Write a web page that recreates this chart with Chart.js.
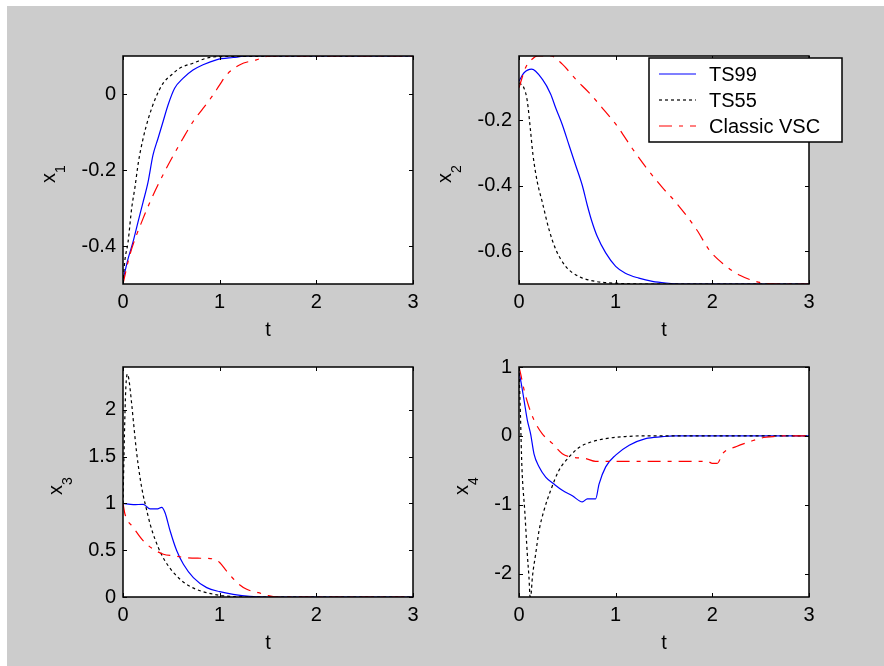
<!DOCTYPE html>
<html><head><meta charset="utf-8">
<script src="https://cdn.jsdelivr.net/npm/chart.js@4/dist/chart.umd.min.js"></script>
<style>
html,body{margin:0;padding:0;background:#fff;width:884px;height:666px;overflow:hidden;position:relative}
#fig{position:absolute;left:7px;top:6px;width:877px;height:660px;background:#cccccc}
canvas{position:absolute}
</style></head><body>
<div id="fig"></div>
<canvas id="p1"></canvas><canvas id="p2"></canvas><canvas id="p3"></canvas><canvas id="p4"></canvas>
<script>
// ---------- data ----------
const seriesNames = ['TS99', 'TS55', 'Classic VSC'];
const tTicks = [0, 1, 2, 3];
const x1Ticks = [-0.4, -0.2, 0];
const x2Ticks = [-0.6, -0.4, -0.2];
const x3Ticks = [0, 0.5, 1, 1.5, 2];
const x4Ticks = [-2, -1, 0, 1];

// x1
const x1_ts99_t = [0, 0.052, 0.103, 0.155, 0.207, 0.259, 0.31, 0.362, 0.414, 0.466, 0.534, 0.62, 0.724, 0.828, 0.966, 1.14, 1.31, 3];
const x1_ts99   = [-0.49, -0.434, -0.39, -0.337, -0.285, -0.232, -0.161, -0.117, -0.073, -0.029, 0.015, 0.041, 0.063, 0.077, 0.09, 0.096, 0.1, 0.1];
const x1_ts55_t = [0, 0.017, 0.052, 0.09, 0.124, 0.159, 0.21, 0.262, 0.33, 0.414, 0.5, 0.586, 0.724, 0.862, 1.0, 3];
const x1_ts55   = [-0.5, -0.443, -0.39, -0.30, -0.245, -0.18, -0.115, -0.065, -0.015, 0.028, 0.05, 0.068, 0.081, 0.094, 0.0985, 0.1];
const x1_vsc_t  = [0, 0.069, 0.207, 0.31, 0.448, 0.62, 0.724, 0.828, 0.931, 1.0, 1.07, 1.21, 1.38, 1.52, 3];
const x1_vsc    = [-0.5, -0.425, -0.328, -0.267, -0.196, -0.117, -0.073, -0.038, -0.003, 0.024, 0.05, 0.077, 0.09, 0.1, 0.1];

// x2
const x2_ts99_t = [0, 0.05, 0.131, 0.241, 0.328, 0.38, 0.448, 0.517, 0.586, 0.655, 0.707, 0.75, 0.81, 0.897, 1.0, 1.1, 1.24, 1.38, 1.52, 1.7, 3];
const x2_ts99   = [-0.08, -0.055, -0.043, -0.074, -0.12, -0.162, -0.213, -0.275, -0.337, -0.399, -0.46, -0.505, -0.555, -0.605, -0.646, -0.667, -0.682, -0.692, -0.697, -0.7, -0.7];
const x2_ts55_t = [0, 0.05, 0.086, 0.12, 0.145, 0.19, 0.241, 0.31, 0.38, 0.483, 0.62, 0.79, 1.03, 1.3, 3];
const x2_ts55   = [-0.085, -0.1, -0.141, -0.234, -0.306, -0.389, -0.45, -0.533, -0.594, -0.646, -0.677, -0.692, -0.698, -0.7, -0.7];
const x2_vsc_t  = [0, 0.069, 0.138, 0.19, 0.26, 0.33, 0.448, 0.586, 0.724, 0.862, 1.03, 1.17, 1.31, 1.48, 1.63, 1.84, 1.97, 2.11, 2.29, 2.49, 2.7, 3];
const x2_vsc    = [-0.1, -0.038, -0.012, -0.003, -0.003, -0.003, -0.028, -0.074, -0.115, -0.162, -0.223, -0.285, -0.342, -0.404, -0.453, -0.535, -0.597, -0.638, -0.674, -0.695, -0.7, -0.7];

// x3
const x3_ts99_t = [0, 0.107, 0.21, 0.28, 0.35, 0.40, 0.435, 0.487, 0.556, 0.625, 0.728, 0.866, 1.0, 1.14, 1.31, 1.5, 3];
const x3_ts99   = [1.0, 0.986, 0.99, 0.94, 0.94, 0.957, 0.9, 0.707, 0.493, 0.35, 0.207, 0.1, 0.057, 0.029, 0.007, 0, 0];
const x3_ts55_t = [0, 0.01, 0.02, 0.03, 0.045, 0.06, 0.09, 0.11, 0.14, 0.18, 0.21, 0.24, 0.28, 0.33, 0.40, 0.47, 0.55, 0.65, 0.75, 0.85, 1.0, 1.15, 1.3, 3];
const x3_ts55   = [1.0, 1.5, 1.95, 2.25, 2.38, 2.33, 2.06, 1.85, 1.55, 1.25, 1.08, 0.95, 0.78, 0.62, 0.45, 0.33, 0.23, 0.14, 0.085, 0.05, 0.018, 0.004, 0, 0];
const x3_vsc_t  = [0, 0.02, 0.107, 0.21, 0.314, 0.418, 0.52, 0.66, 0.8, 0.95, 1.0, 1.07, 1.18, 1.28, 1.4, 1.49, 1.59, 3];
const x3_vsc    = [1.0, 0.886, 0.743, 0.6, 0.51, 0.457, 0.44, 0.42, 0.414, 0.404, 0.368, 0.279, 0.154, 0.082, 0.046, 0.018, 0, 0];

// x4
const x4_ts99_t = [0, 0.017, 0.052, 0.086, 0.12, 0.155, 0.207, 0.276, 0.362, 0.448, 0.552, 0.655, 0.707, 0.793, 0.828, 0.897, 1.0, 1.14, 1.31, 1.48, 1.6, 3];
const x4_ts99   = [0.92, 0.81, 0.52, 0.23, 0.03, -0.26, -0.45, -0.6, -0.70, -0.79, -0.87, -0.96, -0.915, -0.915, -0.70, -0.45, -0.28, -0.136, -0.04, -0.012, 0, 0];
const x4_ts55_t = [0, 0.015, 0.03, 0.06, 0.086, 0.103, 0.115, 0.125, 0.138, 0.172, 0.207, 0.259, 0.328, 0.414, 0.517, 0.62, 0.724, 0.897, 1.1, 1.3, 3];
const x4_ts55   = [1.0, 0.3, -0.45, -1.1, -1.72, -2.05, -2.34, -2.3, -2.06, -1.72, -1.38, -1.08, -0.79, -0.50, -0.31, -0.17, -0.10, -0.04, -0.01, 0, 0];
const x4_vsc_t  = [0, 0.017, 0.052, 0.103, 0.155, 0.241, 0.345, 0.448, 0.552, 0.69, 0.793, 1.2, 1.6, 1.95, 2.0, 2.05, 2.11, 2.25, 2.39, 2.53, 2.63, 2.7, 3];
const x4_vsc    = [1.0, 0.9, 0.67, 0.42, 0.23, 0.03, -0.11, -0.26, -0.31, -0.33, -0.37, -0.37, -0.37, -0.37, -0.40, -0.40, -0.25, -0.155, -0.083, -0.024, -0.01, 0, 0];

// ---------- styling ----------
const FONT = "'Liberation Sans', Arial, Helvetica, sans-serif";
Chart.defaults.font.family = FONT;
Chart.defaults.color = '#000';
const styles = [
  {borderColor: '#0000ff', borderDash: [], order: 3},
  {borderColor: '#000000', borderDash: [3, 3], order: 2},
  {borderColor: '#ff0000', borderDash: [13, 7, 4, 7], order: 1}
];

function pts(t, v) { return t.map((tt, i) => ({x: tt, y: v[i]})); }

const matlabAxes = {
  id: 'matlabAxes',
  beforeDraw(chart) {
    const {ctx, chartArea: a} = chart;
    ctx.save();
    ctx.fillStyle = '#ffffff';
    ctx.fillRect(a.left, a.top, a.right - a.left, a.bottom - a.top);
    ctx.restore();
  },
  afterDraw(chart, args, opts) {
    const {ctx, chartArea: a, scales: {x, y}} = chart;
    ctx.save();
    ctx.strokeStyle = '#000';
    ctx.lineWidth = 1;
    ctx.setLineDash([]);
    ctx.beginPath();
    x.ticks.forEach(tk => {
      const p = Math.round(x.getPixelForValue(tk.value)) + 0.5;
      ctx.moveTo(p, a.bottom); ctx.lineTo(p, a.bottom - 4);
      ctx.moveTo(p, a.top); ctx.lineTo(p, a.top + 4);
    });
    y.ticks.forEach(tk => {
      const p = Math.round(y.getPixelForValue(tk.value)) + 0.5;
      ctx.moveTo(a.left, p); ctx.lineTo(a.left + 4, p);
      ctx.moveTo(a.right, p); ctx.lineTo(a.right - 4, p);
    });
    ctx.stroke();
    ctx.lineWidth = 1.5;
    ctx.strokeRect(a.left, a.top, a.right - a.left, a.bottom - a.top);

    // y label with subscript
    ctx.font = '20px ' + FONT;
    let maxW = 0;
    y.ticks.forEach(tk => { maxW = Math.max(maxW, ctx.measureText(String(tk.label)).width); });
    const base = a.left - 7 - maxW - 26.5;
    const wx = ctx.measureText(opts.label).width;
    ctx.font = '14px ' + FONT;
    const ws = ctx.measureText(opts.sub).width;
    const cy = (a.top + a.bottom) / 2 + 4;
    const start = cy + (wx + ws) / 2;
    ctx.fillStyle = '#000';
    ctx.save();
    ctx.translate(base, start);
    ctx.rotate(-Math.PI / 2);
    ctx.textBaseline = 'alphabetic';
    ctx.textAlign = 'left';
    ctx.font = '20px ' + FONT;
    ctx.fillText(opts.label, 0, 0);
    ctx.font = '14px ' + FONT;
    ctx.fillText(opts.sub, wx, 10);
    ctx.restore();

    // legend
    if (opts.legend) {
      const bx = a.right - 160, by = a.top + 2, bw = 193, bh = 84;
      ctx.fillStyle = '#fff';
      ctx.fillRect(bx, by, bw, bh);
      ctx.lineWidth = 1.5;
      ctx.strokeStyle = '#000';
      ctx.strokeRect(bx, by, bw, bh);
      chart.data.datasets.forEach((ds, i) => {
        const ry = by + 16 + i * 26;
        ctx.beginPath();
        ctx.setLineDash(ds.borderDash || []);
        ctx.strokeStyle = ds.borderColor;
        ctx.lineWidth = 1.2;
        ctx.moveTo(bx + 10, ry); ctx.lineTo(bx + 47, ry);
        ctx.stroke();
        ctx.setLineDash([]);
        ctx.fillStyle = '#000';
        ctx.font = '20px ' + FONT;
        ctx.textBaseline = 'middle';
        ctx.textAlign = 'left';
        ctx.fillText(ds.label, bx + 60, ry + 1);
      });
    }
    ctx.restore();
  }
};

function makePanel(id, rect, data, yMin, yMax, yTicks, sub, padRight, legend) {
  const [L, T, R, B] = rect;
  const cv = document.getElementById(id);
  const W = (R - L) + 90 + padRight, H = (B - T) + 20 + 60;
  cv.width = W; cv.height = H;
  cv.style.left = (L - 90) + 'px'; cv.style.top = (T - 20) + 'px';
  cv.style.width = W + 'px'; cv.style.height = H + 'px';
  const datasets = data.map((d, i) => Object.assign({
    label: seriesNames[i],
    data: pts(d[0], d[1]),
    borderWidth: 1.2,
    pointRadius: 0,
    fill: false,
    cubicInterpolationMode: 'monotone'
  }, styles[i]));
  new Chart(cv, {
    type: 'line',
    data: {datasets},
    options: {
      responsive: false,
      devicePixelRatio: 1,
      animation: false,
      layout: {padding: {top: 20, right: padRight, left: 0, bottom: 0}},
      plugins: {legend: {display: false}, tooltip: {enabled: false},
        matlabAxes: {label: 'x', sub: sub, legend: legend}},
      scales: {
        x: {
          type: 'linear', min: 0, max: 3,
          afterBuildTicks: s => { s.ticks = tTicks.map(v => ({value: v})); },
          afterFit: s => { s.height = 60; },
          grid: {display: false, drawTicks: false},
          border: {display: false},
          ticks: {font: {size: 20}, color: '#000', padding: 6, maxRotation: 0, autoSkip: false, callback: v => String(v)},
          title: {display: true, text: 't', font: {size: 20}, color: '#000', padding: {top: 0, bottom: 2}}
        },
        y: {
          type: 'linear', min: yMin, max: yMax,
          afterBuildTicks: s => { s.ticks = yTicks.map(v => ({value: v})); },
          afterFit: s => { s.width = 90; },
          grid: {display: false, drawTicks: false},
          border: {display: false},
          ticks: {font: {size: 20}, color: '#000', padding: 7, autoSkip: false, callback: v => String(v)}
        }
      }
    },
    plugins: [matlabAxes]
  });
}

makePanel('p1', [123, 56, 413, 284], [[x1_ts99_t, x1_ts99], [x1_ts55_t, x1_ts55], [x1_vsc_t, x1_vsc]], -0.5, 0.1, x1Ticks, '1', 20, false);
makePanel('p2', [519, 56, 809, 284], [[x2_ts99_t, x2_ts99], [x2_ts55_t, x2_ts55], [x2_vsc_t, x2_vsc]], -0.7, -0.003, x2Ticks, '2', 45, true);
makePanel('p3', [123, 367, 413, 597], [[x3_ts99_t, x3_ts99], [x3_ts55_t, x3_ts55], [x3_vsc_t, x3_vsc]], 0, 2.456, x3Ticks, '3', 20, false);
makePanel('p4', [519, 367, 809, 597], [[x4_ts99_t, x4_ts99], [x4_ts55_t, x4_ts55], [x4_vsc_t, x4_vsc]], -2.34, 1, x4Ticks, '4', 20, false);
</script>
</body></html>
